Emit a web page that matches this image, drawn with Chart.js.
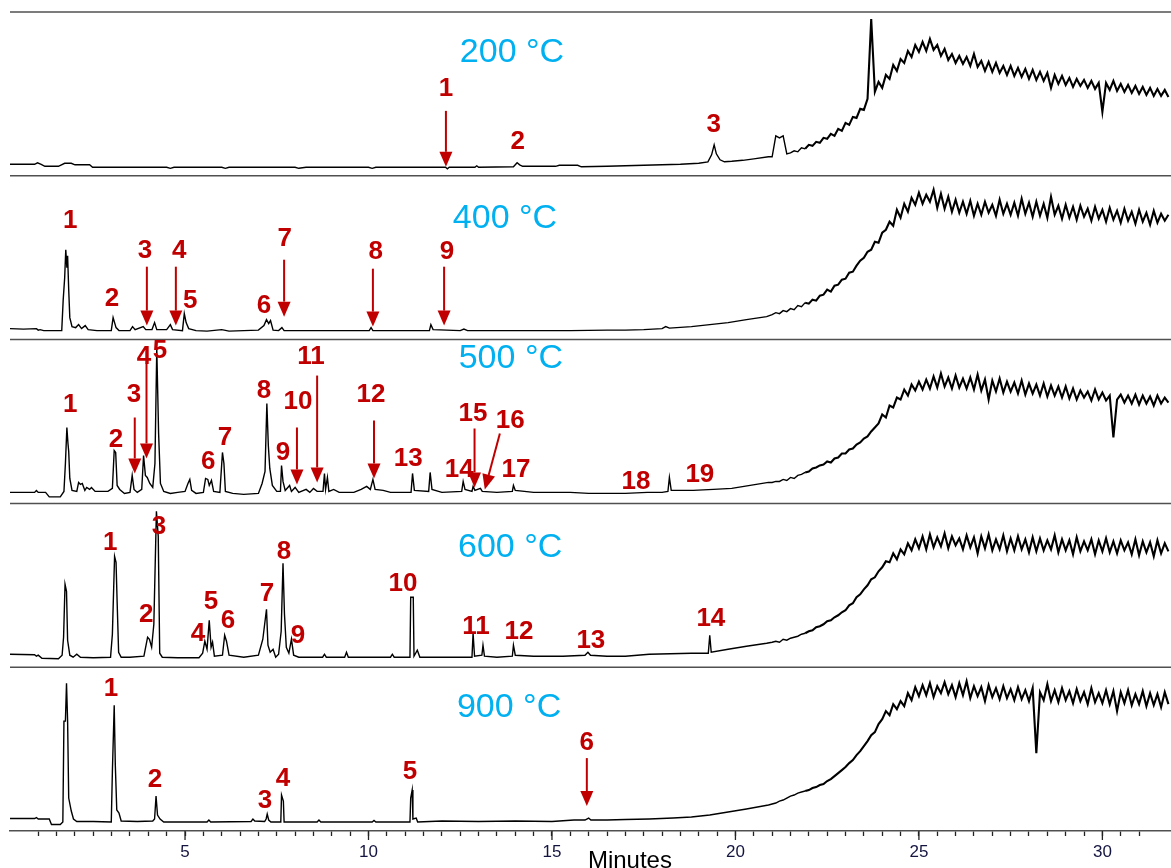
<!DOCTYPE html>
<html>
<head>
<meta charset="utf-8">
<title>Pyrolysis chromatograms</title>
<script src="https://cdn.jsdelivr.net/npm/chart.js"></script>
<style>
    body { margin: 0; background: #fff; }
    #wrap { width: 1171px; height: 868px; }
</style>
</head>
<body>
<div id="wrap"><canvas id="chromChart" width="1171" height="868"></canvas></div>
<script>
// retention time (min) / signal pairs for the peak region of each run
const early200 = [[0.23, 11.5], [0.9, 11.5], [0.98, 13], [1.08, 11.5], [1.18, 9.5], [1.55, 9.5], [1.72, 12.5], [1.9, 12.5], [2.0, 11], [2.4, 11],
    [2.48, 8.5], [4.5, 8.5], [4.6, 7.5], [4.7, 8.5], [6.0, 8.5], [6.1, 7.5], [6.2, 8.5], [8.0, 8.5], [8.1, 7.5], [8.3, 8.5],
    [10.0, 8.5], [10.1, 7.5], [10.2, 8.5], [12.1, 8.5], [12.15, 7], [12.2, 8.5], [12.9, 8.5], [12.95, 10], [13.0, 8.5], [13.95, 9],
    [14.05, 13], [14.12, 11], [14.2, 9.5], [15.1, 9.5], [15.2, 10.5], [15.7, 10.5], [15.8, 9], [16.5, 9.5], [17.0, 10], [17.5, 10.5],
    [18.0, 11], [18.5, 11.5], [19.0, 12.5], [19.25, 14], [19.35, 21], [19.42, 31], [19.48, 22], [19.58, 16], [19.7, 14], [19.9, 14.5],
    [20.2, 15.5], [20.5, 17], [20.9, 19]];

const early400 = [[0.23, 11], [0.6, 10.5], [0.95, 11], [1.0, 9.5], [1.05, 10], [1.15, 9], [1.64, 9], [1.68, 40], [1.72, 62], [1.75, 90],
    [1.78, 72], [1.8, 84], [1.83, 50], [1.86, 22], [1.92, 13], [2.02, 12], [2.1, 15], [2.18, 11], [2.28, 14], [2.36, 10],
    [2.6, 9], [2.99, 9], [3.04, 22], [3.08, 17], [3.12, 12], [3.2, 9], [3.5, 9], [3.57, 13], [3.64, 10], [3.86, 13],
    [3.93, 10], [4.1, 10], [4.17, 17], [4.23, 10], [4.5, 10], [4.6, 15], [4.66, 10], [4.93, 9], [4.98, 26], [5.03, 17],
    [5.1, 11], [5.3, 9], [5.6, 8.5], [6.0, 10], [6.2, 8.5], [6.6, 9], [7.0, 9.5], [7.15, 14], [7.22, 20], [7.28, 16],
    [7.33, 19], [7.4, 9.5], [7.55, 9], [7.64, 12], [7.7, 9], [8.5, 9], [9.5, 9], [10.02, 9], [10.07, 12], [10.12, 9],
    [11.0, 9], [11.66, 9], [11.7, 15], [11.76, 10], [12.5, 9], [12.6, 10.5], [12.7, 9], [13.5, 9], [14.5, 9], [15.5, 9],
    [16.5, 9.5], [17.0, 9.5], [17.5, 10], [18.0, 11], [18.1, 13], [18.2, 11.5], [18.8, 13], [19.3, 15], [19.8, 17], [20.3, 20],
    [20.85, 23]];

const early500 = [[0.23, 11], [0.9, 11], [0.95, 13], [1.0, 11], [1.2, 11], [1.3, 6.5], [1.6, 6.5], [1.7, 12], [1.74, 40], [1.78, 76],
    [1.81, 60], [1.83, 52], [1.86, 25], [1.92, 13], [2.05, 12], [2.1, 21], [2.15, 19], [2.2, 20], [2.27, 13], [2.32, 16],
    [2.4, 14], [2.45, 16], [2.55, 12], [2.9, 12], [3.02, 15], [3.07, 53], [3.11, 51], [3.15, 18], [3.22, 14], [3.35, 10],
    [3.5, 11], [3.56, 28], [3.61, 14], [3.7, 11], [3.82, 14], [3.87, 48], [3.92, 28], [3.97, 26], [4.04, 20], [4.12, 16],
    [4.18, 40], [4.23, 155], [4.28, 70], [4.33, 20], [4.42, 12], [4.6, 10], [4.8, 11], [5.0, 12], [5.08, 20], [5.13, 24],
    [5.18, 13], [5.3, 10], [5.5, 11], [5.56, 25], [5.62, 24], [5.66, 18], [5.72, 23], [5.78, 12], [5.95, 11], [6.02, 51],
    [6.06, 40], [6.1, 12], [6.3, 10], [6.6, 9], [7.0, 10], [7.1, 20], [7.18, 32], [7.23, 100], [7.27, 58], [7.31, 35],
    [7.38, 18], [7.5, 12], [7.6, 12], [7.63, 38], [7.67, 22], [7.73, 13], [7.85, 18], [7.9, 12], [8.0, 16], [8.1, 11],
    [8.3, 14], [8.4, 11], [8.5, 15], [8.6, 12], [8.76, 12], [8.8, 30], [8.83, 14], [8.88, 26], [8.92, 12], [9.05, 14],
    [9.2, 11], [9.6, 11], [9.8, 14], [9.95, 17], [10.05, 14], [10.12, 24], [10.18, 14], [10.4, 13], [10.6, 11], [11.16, 11],
    [11.2, 30], [11.25, 13], [11.64, 12], [11.68, 31], [11.73, 14], [12.0, 11], [12.54, 12], [12.58, 22], [12.63, 14], [12.82, 12],
    [12.85, 17], [12.9, 13], [13.05, 15], [13.1, 12], [13.5, 11], [13.92, 12], [13.95, 18], [14.0, 13], [14.5, 11], [15.0, 11],
    [15.5, 11], [16.0, 10], [17.0, 10], [17.6, 11], [18.0, 11], [18.16, 12], [18.2, 26], [18.25, 13], [18.85, 13], [19.4, 14],
    [19.9, 15], [20.4, 18], [20.9, 21]];

const early600 = [[0.23, 13], [0.9, 12.5], [0.95, 11], [1.0, 12], [1.1, 9], [1.55, 8.5], [1.65, 12], [1.69, 30], [1.73, 83], [1.77, 76],
    [1.8, 27], [1.86, 12], [1.95, 10], [2.05, 13], [2.15, 10], [2.5, 9.5], [2.97, 10], [3.02, 33], [3.08, 111], [3.12, 105],
    [3.15, 65], [3.19, 15], [3.26, 10], [3.5, 10], [3.88, 11], [3.98, 30], [4.03, 28], [4.09, 20], [4.15, 43], [4.22, 156],
    [4.27, 131], [4.31, 14], [4.38, 10], [4.8, 9.5], [5.38, 9.5], [5.48, 14], [5.54, 26], [5.6, 18], [5.66, 47], [5.71, 20],
    [5.75, 25], [5.8, 11], [6.02, 12], [6.08, 32], [6.13, 26], [6.2, 12], [6.6, 10], [7.0, 12], [7.12, 28], [7.22, 58],
    [7.26, 22], [7.32, 15], [7.4, 18], [7.47, 10], [7.55, 13], [7.62, 36], [7.67, 104], [7.71, 53], [7.76, 20], [7.83, 14],
    [7.9, 28], [7.96, 12], [8.1, 10], [8.75, 10], [8.8, 13], [8.85, 10], [9.35, 10], [9.4, 15], [9.45, 10], [10.6, 10],
    [10.65, 13], [10.7, 10], [11.13, 10], [11.15, 70], [11.22, 70], [11.24, 11], [11.33, 17], [11.4, 10], [12.0, 10], [12.82, 10],
    [12.85, 34], [12.89, 11], [13.09, 12], [13.12, 22], [13.16, 11], [13.5, 10], [13.92, 11], [13.95, 22], [14.0, 12], [14.5, 11],
    [15.3, 11], [15.9, 12], [15.98, 15], [16.05, 12], [16.5, 11], [17.0, 11], [17.65, 13], [18.8, 14], [19.26, 14], [19.3, 32],
    [19.34, 15], [19.8, 18], [20.3, 21], [20.85, 24]];

const early900 = [[0.23, 12.5], [0.9, 12.5], [0.95, 13.5], [1.0, 12], [1.3, 12], [1.36, 6.5], [1.6, 6.5], [1.67, 9], [1.7, 110], [1.74, 110],
    [1.77, 148], [1.8, 110], [1.83, 33], [1.9, 20], [1.96, 12], [2.05, 9.5], [2.5, 9.5], [2.99, 9], [3.02, 59], [3.07, 126],
    [3.1, 66], [3.14, 21], [3.2, 18], [3.26, 10], [3.7, 9.5], [4.12, 10], [4.17, 12], [4.21, 35], [4.25, 16], [4.32, 12],
    [4.42, 9], [5.6, 9], [5.65, 11], [5.7, 9], [6.8, 9.5], [6.85, 12], [6.9, 10], [7.17, 9.5], [7.21, 12], [7.24, 17],
    [7.28, 11], [7.34, 9], [7.61, 9], [7.63, 36], [7.68, 30], [7.7, 9], [8.6, 9], [8.65, 11], [8.7, 9], [10.1, 9],
    [10.15, 10.5], [10.2, 9], [11.13, 9], [11.15, 33], [11.19, 41], [11.21, 12], [11.3, 13], [11.34, 9], [12.0, 10], [13.0, 9.5],
    [14.0, 10], [15.0, 9.5], [15.6, 11], [15.9, 11], [16.0, 13], [16.06, 11], [16.5, 11], [17.0, 11.5], [17.65, 12], [18.3, 13],
    [18.8, 14], [19.3, 16], [19.8, 19], [20.3, 22], [20.9, 26]];

// column bleed hump, sampled every 0.1 min from 21.0 to 31.8
const humpTimes = Array.from({ length: 109 }, (_, i) => Math.round(210 + i) / 10);

const hump200 = [19, 40, 38, 40, 22, 23, 25, 24, 28, 27,
    31, 30, 34, 33, 38, 37, 42, 40, 47, 45,
    53, 51, 59, 58, 67, 66, 77, 157, 84, 94,
    88, 101, 97, 111, 105, 117, 113, 125, 119, 131,
    124, 134, 125, 137, 126, 131, 120, 127, 116, 122,
    113, 120, 112, 119, 110, 122, 109, 115, 105, 114,
    104, 113, 103, 110, 101, 110, 100, 108, 99, 107,
    97, 106, 96, 104, 95, 103, 88, 101, 92, 100,
    91, 98, 89, 97, 90, 96, 88, 95, 87, 93,
    64, 93, 86, 95, 85, 92, 84, 91, 83, 90,
    82, 89, 81, 88, 80, 87, 80, 86, 79];

const hump400 = [25, 27, 26, 29, 28, 31, 30, 34, 33, 37,
    36, 40, 39, 44, 45, 50, 48, 54, 55, 60,
    61, 67, 68, 74, 79, 82, 88, 90, 98, 97,
    107, 110, 118, 114, 130, 122, 136, 128, 142, 135,
    147, 136, 145, 138, 150, 132, 146, 131, 143, 128,
    140, 127, 138, 126, 139, 124, 136, 125, 138, 127,
    135, 124, 140, 126, 136, 125, 137, 124, 141, 126,
    137, 123, 138, 124, 136, 122, 143, 125, 134, 121,
    135, 122, 133, 120, 134, 123, 131, 119, 133, 121,
    130, 118, 132, 120, 129, 117, 131, 119, 128, 116,
    130, 118, 127, 115, 129, 117, 126, 119, 125];

const hump500 = [21, 22, 22, 24, 23, 26, 25, 28, 29, 31,
    32, 35, 36, 38, 39, 42, 41, 45, 46, 50,
    50, 54, 55, 59, 61, 65, 67, 72, 76, 80,
    89, 86, 98, 96, 106, 104, 114, 108, 119, 113,
    122, 114, 124, 115, 127, 116, 130, 117, 126, 115,
    128, 116, 125, 115, 126, 114, 129, 113, 124, 104,
    123, 112, 125, 111, 122, 112, 121, 110, 123, 109,
    120, 110, 119, 108, 120, 107, 118, 108, 117, 106,
    117, 105, 115, 104, 113, 106, 112, 103, 114, 104,
    111, 103, 108, 66, 104, 109, 101, 108, 100, 109,
    99, 108, 100, 107, 98, 108, 100, 106, 101];

const hump600 = [25, 26, 25, 28, 27, 29, 30, 31, 33, 34,
    36, 37, 40, 41, 43, 46, 47, 50, 52, 55,
    57, 62, 64, 70, 73, 78, 82, 88, 90, 96,
    100, 106, 105, 114, 108, 118, 113, 124, 117, 128,
    119, 131, 118, 133, 120, 130, 121, 134, 119, 131,
    122, 129, 118, 132, 120, 130, 114, 131, 119, 133,
    117, 128, 118, 132, 116, 129, 117, 131, 118, 128,
    115, 130, 116, 129, 117, 127, 118, 132, 115, 128,
    117, 127, 113, 130, 116, 126, 117, 128, 113, 127,
    116, 129, 115, 126, 114, 127, 117, 125, 113, 128,
    112, 126, 115, 125, 111, 127, 114, 124, 116];

const hump900 = [27, 28, 30, 31, 33, 35, 36, 38, 39, 40,
    41, 43, 44, 46, 47, 50, 52, 55, 58, 61,
    64, 68, 71, 76, 80, 85, 90, 96, 99, 107,
    112, 120, 116, 127, 122, 130, 125, 138, 131, 144,
    135, 146, 136, 148, 134, 145, 138, 149, 137, 146,
    134, 148, 136, 150, 133, 145, 135, 144, 130, 146,
    134, 143, 132, 145, 133, 142, 131, 144, 132, 141,
    130, 143, 78, 139, 131, 147, 130, 141, 129, 143,
    131, 140, 128, 142, 130, 139, 127, 143, 129, 138,
    128, 141, 127, 140, 120, 139, 128, 141, 126, 137,
    127, 140, 125, 138, 126, 137, 124, 139, 127];

const panelIds = ['y200', 'y400', 'y500', 'y600', 'y900'];
const tempLabels = ['200 °C', '400 °C', '500 °C', '600 °C', '900 °C'];
const earlyData = [early200, early400, early500, early600, early900];
const humpData = [hump200, hump400, hump500, hump600, hump900];
const majorMinutes = [5, 10, 15, 20, 25, 30];

// text and arrow placement (minutes, signal) for each panel
const notes = {
    y200: { temp: [13.91, 123],
        nums: [['1', 12.11, 87], ['2', 14.07, 34], ['3', 19.41, 51]],
        arrows: [[12.11, 65, 12.11, 9]] },
    y400: { temp: [13.72, 121],
        nums: [['1', 1.87, 119], ['2', 3.01, 41], ['3', 3.91, 89], ['4', 4.84, 89], ['5', 5.14, 39],
            ['6', 7.15, 34], ['7', 7.72, 101], ['8', 10.2, 88], ['9', 12.14, 88]],
        arrows: [[3.96, 73, 3.96, 14], [4.75, 73, 4.75, 14], [7.7, 80, 7.7, 23], [10.12, 71, 10.12, 13], [12.06, 73, 12.06, 14]] },
    y500: { temp: [13.88, 145],
        nums: [['1', 1.87, 99], ['2', 3.12, 64], ['3', 3.61, 109], ['4', 3.88, 147], ['5', 4.32, 153], ['6', 5.63, 42],
            ['7', 6.09, 66], ['8', 7.15, 113], ['9', 7.67, 51], ['10', 8.08, 102], ['11', 8.43, 147], ['12', 10.07, 109],
            ['13', 11.08, 45], ['14', 12.47, 34], ['15', 12.85, 90], ['16', 13.86, 83], ['17', 14.02, 34], ['18', 17.29, 22],
            ['19', 19.03, 29]],
        arrows: [[3.63, 86, 3.63, 30], [3.95, 140, 3.95, 45], [8.05, 76, 8.05, 19], [8.6, 128, 8.6, 21],
            [10.15, 83, 10.15, 25], [12.89, 75, 12.89, 16], [13.58, 70, 13.17, 14]] },
    y600: { temp: [13.86, 120],
        nums: [['1', 2.96, 125], ['2', 3.94, 52], ['3', 4.29, 141], ['4', 5.35, 33], ['5', 5.71, 65], ['6', 6.17, 46],
            ['7', 7.23, 73], ['8', 7.7, 116], ['9', 8.08, 31], ['10', 10.94, 83], ['11', 12.93, 40], ['12', 14.1, 35],
            ['13', 16.06, 26], ['14', 19.33, 48]],
        arrows: [] },
    y900: { temp: [13.83, 124],
        nums: [['1', 2.98, 142], ['2', 4.18, 51], ['3', 7.18, 30], ['4', 7.67, 52], ['5', 11.13, 59], ['6', 15.95, 88]],
        arrows: [[15.95, 73, 15.95, 25]] }
};

const FONT = "'Liberation Sans', Arial, sans-serif";
const RED = '#C00000';
const isMajor = v => majorMinutes.some(m => Math.abs(v - m) < 1e-6);

function buildPoints(early, hump) {
    const pts = early.map(([t, v]) => ({ x: t, y: v }));
    humpTimes.forEach((t, i) => pts.push({ x: t, y: hump[i] }));
    return pts;
}

function drawArrow(ctx, x1, y1, x2, y2) {
    const ang = Math.atan2(y2 - y1, x2 - x1);
    const head = 15, half = 6.5;
    const bx = x2 - head * Math.cos(ang), by = y2 - head * Math.sin(ang);
    ctx.beginPath();
    ctx.moveTo(x1, y1);
    ctx.lineTo(bx, by);
    ctx.stroke();
    ctx.beginPath();
    ctx.moveTo(x2, y2);
    ctx.lineTo(bx + half * Math.sin(ang), by - half * Math.cos(ang));
    ctx.lineTo(bx - half * Math.sin(ang), by + half * Math.cos(ang));
    ctx.closePath();
    ctx.fill();
}

const overlay = {
    id: 'overlay',
    afterDraw(chart) {
        const ctx = chart.ctx;
        const xs = chart.scales.x;
        const area = chart.chartArea;
        ctx.save();

        // panel separators
        ctx.strokeStyle = '#505050';
        ctx.lineWidth = 1.5;
        panelIds.forEach(id => {
            const top = chart.scales[id].top;
            ctx.beginPath();
            ctx.moveTo(area.left, top);
            ctx.lineTo(area.right, top);
            ctx.stroke();
        });

        // longer ticks at labelled minutes
        ctx.strokeStyle = '#222';
        ctx.lineWidth = 1.3;
        xs.ticks.forEach(tk => {
            if (!isMajor(tk.value)) return;
            const px = xs.getPixelForValue(tk.value);
            ctx.beginPath();
            ctx.moveTo(px, xs.top);
            ctx.lineTo(px, xs.top + 9);
            ctx.stroke();
        });

        // axis title
        ctx.fillStyle = '#000';
        ctx.font = '24px ' + FONT;
        ctx.textAlign = 'left';
        ctx.textBaseline = 'alphabetic';
        ctx.fillText('Minutes', xs.getPixelForValue(15.98), xs.bottom);

        // temperatures, peak numbers and arrows
        panelIds.forEach((id, i) => {
            const ys = chart.scales[id];
            const n = notes[id];
            ctx.textAlign = 'center';
            ctx.textBaseline = 'middle';
            ctx.fillStyle = '#00B0F0';
            ctx.font = '34px ' + FONT;
            ctx.fillText(tempLabels[i], xs.getPixelForValue(n.temp[0]), ys.getPixelForValue(n.temp[1]));

            ctx.fillStyle = RED;
            ctx.strokeStyle = RED;
            ctx.lineWidth = 2;
            ctx.font = 'bold 26px ' + FONT;
            n.nums.forEach(([txt, t, v]) => {
                ctx.fillText(txt, xs.getPixelForValue(t), ys.getPixelForValue(v));
            });
            n.arrows.forEach(([t1, v1, t2, v2]) => {
                drawArrow(ctx, xs.getPixelForValue(t1), ys.getPixelForValue(v1),
                    xs.getPixelForValue(t2), ys.getPixelForValue(v2));
            });
        });
        ctx.restore();
    }
};

const scales = {
    x: {
        type: 'linear',
        position: 'bottom',
        min: 0.23,
        max: 31.87,
        afterBuildTicks: s => {
            s.ticks = s.ticks.filter(t => Math.abs(t.value * 2 - Math.round(t.value * 2)) < 1e-6);
        },
        afterFit: s => { s.height = 37; },
        ticks: {
            stepSize: 0.5,
            autoSkip: false,
            maxRotation: 0,
            padding: 6,
            color: '#141440',
            font: { family: FONT, size: 17 },
            callback: v => isMajor(v) ? String(Math.round(v)) : ''
        },
        grid: { drawOnChartArea: false, drawTicks: true, tickLength: 5, tickColor: '#222', tickWidth: 1.3 },
        border: { display: true, color: '#505050', width: 1.5 }
    }
};
// stacked left axes are laid out last-first, so add the bottom panel first
[...panelIds].reverse().forEach(id => {
    scales[id] = {
        type: 'linear',
        position: 'left',
        stack: 'panels',
        stackWeight: 1,
        min: 0,
        max: 164,
        grid: { display: false },
        border: { display: false },
        ticks: { display: false },
        afterFit: s => { s.width = 0; }
    };
});

new Chart(document.getElementById('chromChart'), {
    type: 'line',
    data: {
        datasets: panelIds.map((id, i) => ({
            label: tempLabels[i],
            data: buildPoints(earlyData[i], humpData[i]),
            xAxisID: 'x',
            yAxisID: id,
            borderColor: '#000',
            borderWidth: 1.4,
            pointRadius: 0,
            tension: 0,
            fill: false,
            segment: {
                borderWidth: c => c.p0.parsed.x >= 21.9 ? 2.1 : 1.4
            }
        }))
    },
    options: {
        responsive: false,
        animation: false,
        events: [],
        layout: { padding: { left: 10, top: 12, right: 0, bottom: 0 } },
        plugins: { legend: { display: false }, tooltip: { enabled: false } },
        scales: scales
    },
    plugins: [overlay]
});
</script>
</body>
</html>
